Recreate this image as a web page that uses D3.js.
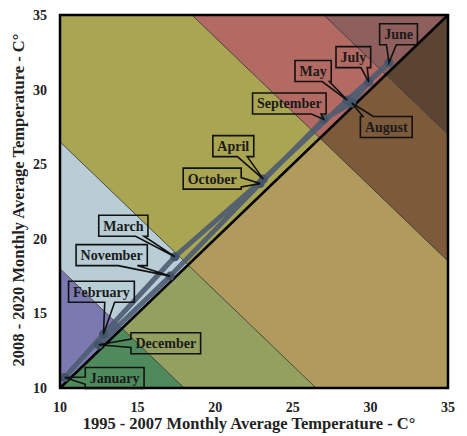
<!DOCTYPE html>
<html>
<head>
<meta charset="utf-8">
<script src="https://cdnjs.cloudflare.com/ajax/libs/d3/7.8.5/d3.min.js"></script>
<style>
  body { margin: 0; background: #fff; }
  text { font-family: "Liberation Serif", "DejaVu Serif", serif; font-weight: bold; }
</style>
</head>
<body>
<div id="chart"></div>
<script>
// monthly averages, x = 1995-2007, y = 2008-2020
var months = ["January", "February", "March", "April", "May", "June",
              "July", "August", "September", "October", "November", "December"];
var tempPast   = [10.3, 12.8, 17.4, 23.1, 28.5, 31.2, 29.9, 28.8, 27.0, 22.9, 17.1, 12.5];
var tempRecent = [10.7, 13.6, 18.8, 24.0, 29.3, 31.8, 30.5, 29.1, 28.0, 23.7, 17.5, 12.9];

// band limits on x + y
var bandBreaks = [28, 36.5, 53.5, 62];
var ticks = [10, 15, 20, 25, 30, 35];

// colours of bands above and below the 1:1 line
var upperColors = ["#7b79b0", "#b8cdd5", "#aaa553", "#b36a62", "#8e5f5c"];
var lowerColors = ["#4f8a5c", "#93a05f", "#b09b5d", "#7d5a3a", "#5b4431"];

// callout placement (month order): box centre offset from point, tail side and tail span
var callouts = [
  {dx: 50,    dy: 0.5,   side: "left",   a: 0.45, b: 0.8},   // Jan
  {dx: -2,    dy: -42.5, side: "bottom", a: 0.55, b: 0.7},   // Feb
  {dx: -51.5, dy: -31,   side: "bottom", a: 0.75, b: 0.92},  // Mar
  {dx: -30,   dy: -33,   side: "bottom", a: 0.6,  b: 0.84},  // Apr
  {dx: -34,   dy: -29,   side: "bottom", a: 0.75, b: 0.95},  // May
  {dx: 9.5,   dy: -28.5, side: "bottom", a: 0.18, b: 0.44},  // Jun
  {dx: -15.5, dy: -25,   side: "bottom", a: 0.72, b: 0.9},   // Jul
  {dx: 34.5,  dy: 24,    side: "top",    a: 0.05, b: 0.25},  // Aug
  {dx: -34.5, dy: -16,   side: "bottom", a: 0.8,  b: 0.93},  // Sep
  {dx: -48,   dy: -5,    side: "right",  a: 0.45, b: 0.9},   // Oct
  {dx: -58.5, dy: -21,   side: "bottom", a: 0.59, b: 0.86},  // Nov
  {dx: 67,    dy: -1.5,  side: "left",   a: 0.3,  b: 0.7}    // Dec
];

var svgWidth = 467;
var svgHeight = 436;
var margin = {top: 15, right: 19, bottom: 48, left: 60};
var width = svgWidth - margin.left - margin.right;
var height = svgHeight - margin.top - margin.bottom;

var svg = d3.select("#chart")
  .append("svg")
  .attr("width", svgWidth)
  .attr("height", svgHeight);

var chartGroup = svg.append("g")
  .attr("transform", `translate(${margin.left}, ${margin.top})`);

var x = d3.scaleLinear().domain([10, 35]).range([0, width]);
var y = d3.scaleLinear().domain([10, 35]).range([height, 0]);

var defs = svg.append("defs");
// triangles above / below the 1:1 line
defs.append("clipPath").attr("id", "clipUpper")
  .append("path")
  .attr("d", d3.line()([[x(10), y(10)], [x(10), y(35)], [x(35), y(35)]]));
defs.append("clipPath").attr("id", "clipLower")
  .append("path")
  .attr("d", d3.line()([[x(10), y(10)], [x(35), y(10)], [x(35), y(35)]]));
defs.append("clipPath").attr("id", "clipPlot")
  .append("rect").attr("width", width).attr("height", height);

var edges = [-100].concat(bandBreaks).concat([200]);
function bandPoly(lo, hi) {
  var far = 60;
  return d3.line()([
    [x(lo + far), y(-far)], [x(hi + far), y(-far)],
    [x(-far), y(hi + far)], [x(-far), y(lo + far)]
  ]) + "Z";
}

var upperG = chartGroup.append("g").attr("clip-path", "url(#clipUpper)");
var lowerG = chartGroup.append("g").attr("clip-path", "url(#clipLower)");
d3.range(edges.length - 1).forEach(function(i) {
  upperG.append("path").attr("d", bandPoly(edges[i], edges[i + 1])).attr("fill", upperColors[i]);
  lowerG.append("path").attr("d", bandPoly(edges[i], edges[i + 1])).attr("fill", lowerColors[i]);
});

// thin contour lines between bands
chartGroup.append("g").attr("clip-path", "url(#clipPlot)")
  .selectAll("line")
  .data(bandBreaks)
  .enter()
  .append("line")
  .attr("x1", d => x(d)).attr("y1", y(0))
  .attr("x2", x(0)).attr("y2", d => y(d))
  .attr("stroke", "#2a2a2a")
  .attr("stroke-width", 0.8);

// 1:1 line
chartGroup.append("line")
  .attr("x1", x(10)).attr("y1", y(10))
  .attr("x2", x(35)).attr("y2", y(35))
  .attr("stroke", "#000")
  .attr("stroke-width", 2.5);

var data = months.map(function(m, i) {
  return {month: m, past: tempPast[i], recent: tempRecent[i], c: callouts[i]};
});

// monthly path
chartGroup.append("path")
  .datum(data)
  .attr("fill", "none")
  .attr("stroke", "#4c5c72")
  .attr("stroke-opacity", 0.9)
  .attr("stroke-width", 5)
  .attr("stroke-linejoin", "round")
  .attr("d", d3.line().x(d => x(d.past)).y(d => y(d.recent)));

chartGroup.selectAll("circle.pt")
  .data(data)
  .enter()
  .append("circle")
  .attr("class", "pt")
  .attr("cx", d => x(d.past))
  .attr("cy", d => y(d.recent))
  .attr("r", 4.5)
  .attr("fill", "#45556a");

// frame
chartGroup.append("rect")
  .attr("width", width).attr("height", height)
  .attr("fill", "none")
  .attr("stroke", "#000")
  .attr("stroke-width", 2.5);

// callouts
function calloutPath(x0, y0, x1, y1, px, py, side, a, b) {
  var w = x1 - x0, h = y1 - y0, pts;
  if (side === "bottom") {
    pts = [[x0, y0], [x1, y0], [x1, y1], [x0 + w * b, y1], [px, py], [x0 + w * a, y1], [x0, y1]];
  } else if (side === "top") {
    pts = [[x0, y0], [x0 + w * a, y0], [px, py], [x0 + w * b, y0], [x1, y0], [x1, y1], [x0, y1]];
  } else if (side === "left") {
    pts = [[x0, y0], [x1, y0], [x1, y1], [x0, y1], [x0, y0 + h * b], [px, py], [x0, y0 + h * a]];
  } else {
    pts = [[x0, y0], [x1, y0], [x1, y0 + h * a], [px, py], [x1, y0 + h * b], [x1, y1], [x0, y1]];
  }
  return d3.line()(pts) + "Z";
}

var calloutG = chartGroup.append("g");
data.forEach(function(d) {
  var px = x(d.past), py = y(d.recent);
  var cx = px + d.c.dx, cy = py + d.c.dy;
  var g = calloutG.append("g");
  var t = g.append("text")
    .attr("x", cx).attr("y", cy + 5)
    .attr("text-anchor", "middle")
    .attr("font-size", 14)
    .attr("fill", "#1a1a1a")
    .text(d.month);
  var tw = t.node().getComputedTextLength();
  var bw = tw + 9, bh = 21;
  g.insert("path", "text")
    .attr("d", calloutPath(cx - bw / 2, cy - bh / 2, cx + bw / 2, cy + bh / 2, px, py, d.c.side, d.c.a, d.c.b))
    .attr("fill", "none")
    .attr("stroke", "#111")
    .attr("stroke-width", 1.6)
    .attr("stroke-linejoin", "miter");
});

// tick labels
chartGroup.selectAll("text.xt")
  .data(ticks)
  .enter()
  .append("text")
  .attr("class", "xt")
  .attr("x", d => x(d))
  .attr("y", height + 24)
  .attr("text-anchor", "middle")
  .attr("font-size", 14)
  .attr("fill", "#222")
  .text(d => d);

chartGroup.selectAll("text.yt")
  .data(ticks)
  .enter()
  .append("text")
  .attr("class", "yt")
  .attr("x", -13)
  .attr("y", d => y(d) + 5)
  .attr("text-anchor", "end")
  .attr("font-size", 14)
  .attr("fill", "#222")
  .text(d => d);

// axis titles
svg.append("text")
  .attr("x", margin.left + width / 2 - 5)
  .attr("y", 429)
  .attr("text-anchor", "middle")
  .attr("font-size", 16.5)
  .attr("fill", "#222")
  .text("1995 - 2007 Monthly Average Temperature - C°");

svg.append("text")
  .attr("transform", "translate(24, 200) rotate(-90)")
  .attr("text-anchor", "middle")
  .attr("font-size", 16.5)
  .attr("fill", "#222")
  .text("2008 - 2020 Monthly Average Temperature - C°");
</script>
</body>
</html>
